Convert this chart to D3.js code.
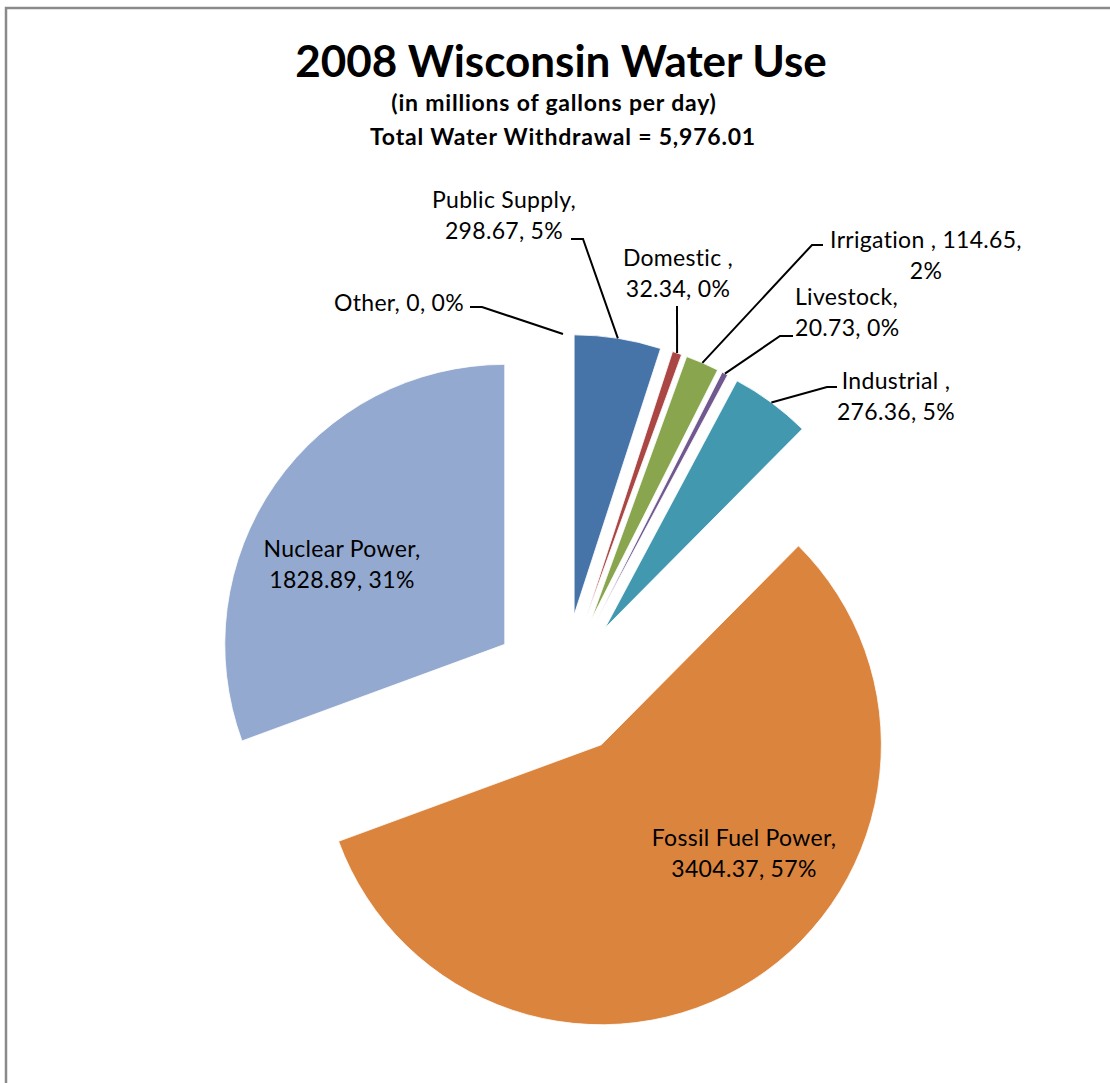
<!DOCTYPE html>
<html><head><meta charset="utf-8">
<script src="https://cdn.jsdelivr.net/npm/d3@7"></script>
<style>body{margin:0;background:#fff} svg{display:block}</style>
</head><body><svg id="c" width="1110" height="1083"></svg>
<script>
const categories = ["Public Supply", "Domestic ", "Irrigation ", "Livestock", "Industrial ", "Fossil Fuel Power", "Nuclear Power", "Other"];
const values = [298.67, 32.34, 114.65, 20.73, 276.36, 3404.37, 1828.89, 0];
const percentLabels = ["5%", "0%", "2%", "0%", "5%", "57%", "31%", "0%"];
const colors = ["#4673A8", "#AA4643", "#89A54E", "#71588F", "#4198AF", "#DB843D", "#93A9CF", "#B9CD96"];
const title = "2008 Wisconsin Water Use";
const subtitle1 = "(in millions of gallons per day)";
const subtitle2 = "Total Water Withdrawal = 5,976.01";

// label layout: line split, anchor, text x, first line centre y, leader path start points
const labelLayout = [
  {lines: (n,v,p)=>[n+",", v+", "+p], anchor: "middle", x: 504, y: 200, leader: [[571,239],[583,239]]},
  {lines: (n,v,p)=>[n+",", v+", "+p], anchor: "middle", x: 678, y: 258, leader: [[677,306]]},
  {lines: (n,v,p)=>[n+", "+v+",", p], anchor: "middle", x: 926, y: 240, leader: [[823,245],[812,245]]},
  {lines: (n,v,p)=>[n+",", v+", "+p], anchor: "start", x: 795, y: 297, leader: [[793,336],[780,336]]},
  {lines: (n,v,p)=>[n+",", v+", "+p], anchor: "middle", x: 896, y: 381, leader: [[837,387],[827,387]]},
  {lines: (n,v,p)=>[n+",", v+", "+p], anchor: "middle", x: 744, y: 838, leader: null},
  {lines: (n,v,p)=>[n+",", v+", "+p], anchor: "middle", x: 342, y: 549, leader: null},
  {lines: (n,v,p)=>[n+", "+v+", "+p], anchor: "end", x: 464, y: 303, leader: [[470,307],[482,307]]}
];

const W = 1110, H = 1083;
const cx = 563, cy = 685, R = 280, explode = 71, lineH = 31;
const svg = d3.select("#c");
const FONT = "Lato, 'Open Sans', sans-serif";

// frame
svg.append("rect").attr("x", 6).attr("y", 8).attr("width", W + 20).attr("height", H + 20)
  .attr("fill", "#fff").attr("stroke", "#8a8a8a").attr("stroke-width", 2.5);

// titles
svg.append("text").attr("x", 561).attr("y", 77).attr("text-anchor", "middle")
  .attr("font-family", FONT).attr("font-weight", 700).attr("font-size", 44).attr("fill", "#000").text(title);
svg.append("text").attr("x", 554).attr("y", 111).attr("text-anchor", "middle")
  .attr("font-family", FONT).attr("font-weight", 700).attr("font-size", 23).attr("letter-spacing", 0.8).attr("fill", "#000").text(subtitle1);
svg.append("text").attr("x", 563).attr("y", 145).attr("text-anchor", "middle")
  .attr("font-family", FONT).attr("font-weight", 700).attr("font-size", 23).attr("letter-spacing", 0.8).attr("fill", "#000").text(subtitle2);

const data = categories.map((c, i) => ({name: c, value: values[i], pct: percentLabels[i], color: colors[i], layout: labelLayout[i]}));
const pie = d3.pie().sort(null).value(d => d.value).startAngle(0).endAngle(2 * Math.PI);
const arcs = pie(data);
const arc = d3.arc().innerRadius(0).outerRadius(R);

const g = svg.append("g").attr("transform", `translate(${cx},${cy})`);
arcs.forEach(a => {
  const mid = (a.startAngle + a.endAngle) / 2;
  a.dx = explode * Math.sin(mid);
  a.dy = -explode * Math.cos(mid);
  a.mid = mid;
});

g.selectAll("path.slice").data(arcs).join("path").attr("class", "slice")
  .attr("transform", d => `translate(${d.dx},${d.dy})`)
  .attr("d", arc)
  .attr("fill", d => d.data.color)
  .attr("stroke", "#fff").attr("stroke-width", 0.8);

// leaders
const line = d3.line();
arcs.forEach(a => {
  const L = a.data.layout;
  if (!L.leader) return;
  const ex = cx + a.dx + R * Math.sin(a.mid);
  const ey = cy + a.dy - R * Math.cos(a.mid);
  svg.append("path").attr("d", line([...L.leader, [ex, ey]]))
    .attr("fill", "none").attr("stroke", "#000").attr("stroke-width", 2);
});

// labels
arcs.forEach(a => {
  const L = a.data.layout;
  const lines = L.lines(a.data.name, String(a.data.value), a.data.pct);
  const t = svg.append("text").attr("text-anchor", L.anchor)
    .attr("font-family", FONT).attr("font-size", 23).attr("letter-spacing", 0.3).attr("fill", "#000");
  lines.forEach((s, k) => {
    t.append("tspan").attr("x", L.x).attr("y", L.y + k * lineH).attr("dy", "0.35em").text(s);
  });
});
</script>
</body></html>
